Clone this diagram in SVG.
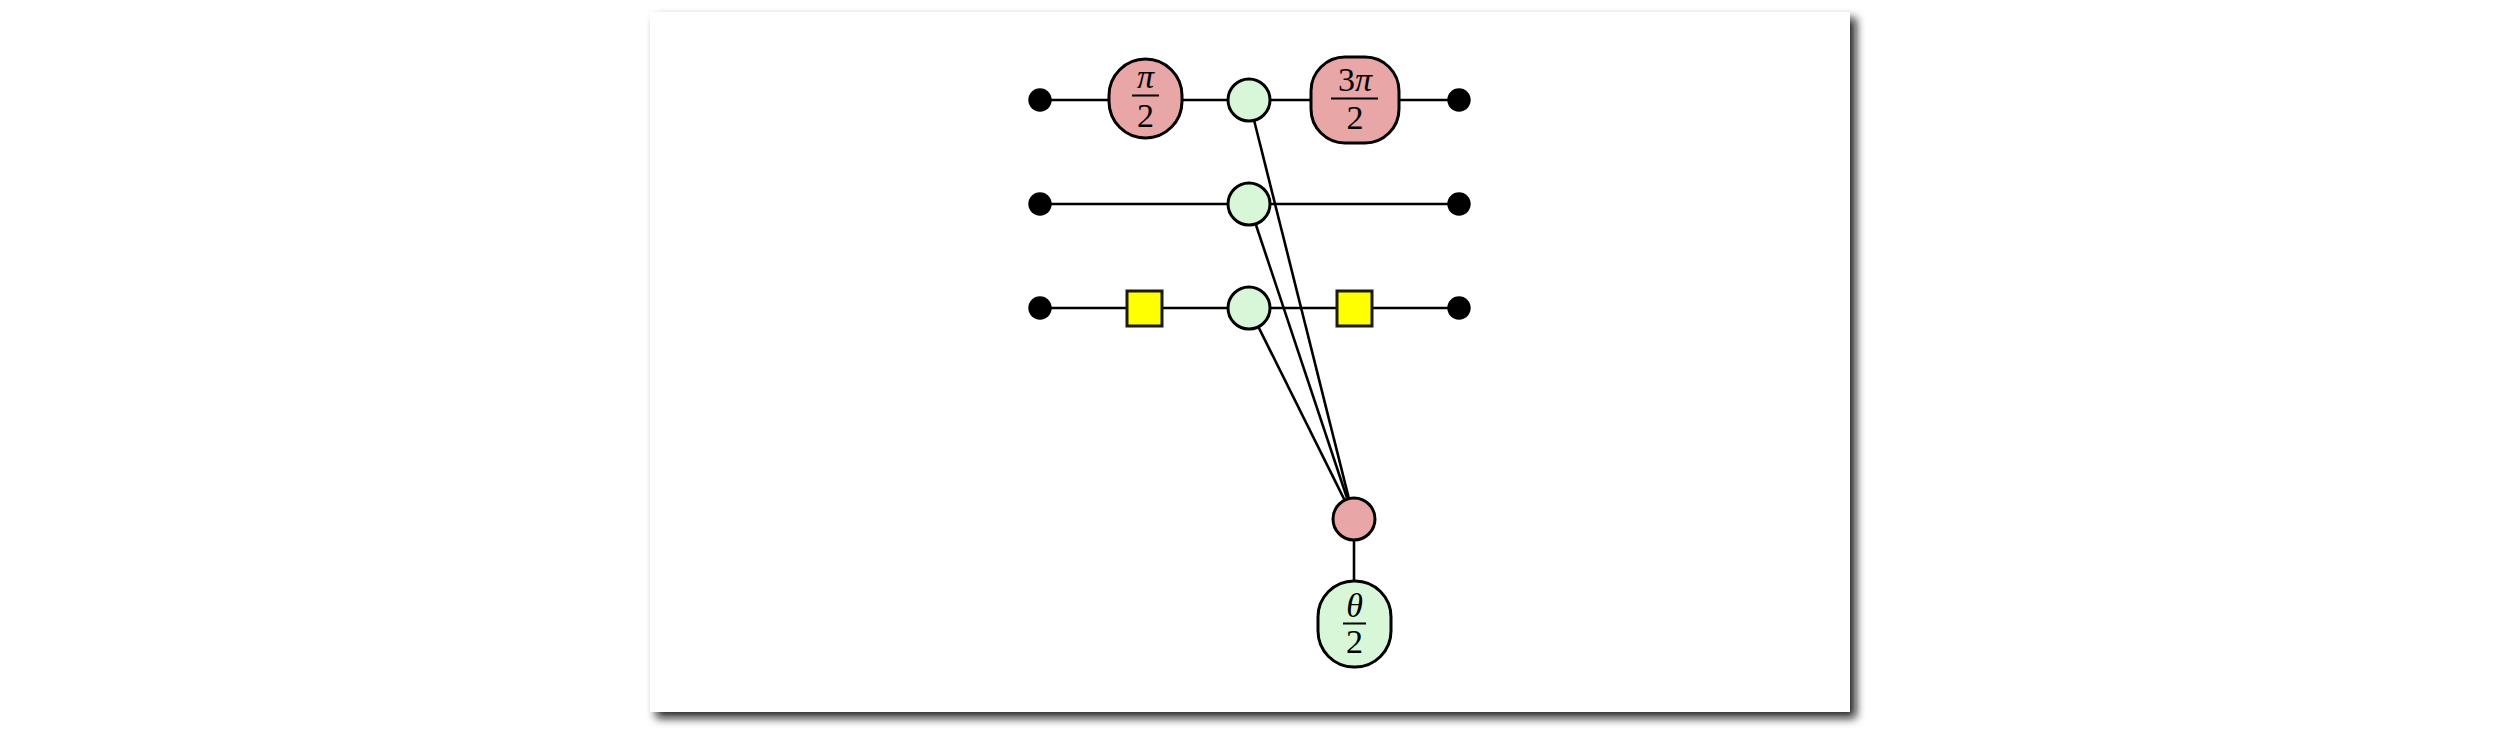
<svg xmlns="http://www.w3.org/2000/svg" width="2500" height="740" viewBox="0 0 2500 740">
<style>
.wire{stroke:#000;stroke-width:2.6;fill:none}
.bdry{fill:#000}
.z{fill:#D8F7D8;stroke:#000;stroke-width:3}
.x{fill:#E8A6A6;stroke:#000;stroke-width:3}
.h{fill:#FFFF00;stroke:#1a1a1a;stroke-width:3}
.t{font-family:"Liberation Serif","DejaVu Serif",serif;font-size:34px;fill:#000;text-anchor:middle}
.it{font-style:italic}
.bar{stroke:#000;stroke-width:2}
</style>
<defs>
<filter id="sh" x="-5%" y="-5%" width="110%" height="115%">
<feDropShadow dx="6" dy="6" stdDeviation="5" flood-color="#111" flood-opacity="0.9"/>
</filter>
</defs>
<rect x="0" y="0" width="2500" height="740" fill="#fff"/>
<rect id="paper" x="650" y="12" width="1200" height="700" fill="#fff" filter="url(#sh)"/>
<g id="connectors">
<line class="wire" x1="1040" y1="100" x2="1459" y2="100"/>
<line class="wire" x1="1040" y1="204" x2="1459" y2="204"/>
<line class="wire" x1="1040" y1="308" x2="1459" y2="308"/>
<line class="wire" x1="1249" y1="100" x2="1354" y2="519"/>
<line class="wire" x1="1249" y1="204" x2="1354" y2="519"/>
<line class="wire" x1="1249" y1="308" x2="1354" y2="519"/>
<line class="wire" x1="1354" y1="519" x2="1354" y2="600"/>
</g>
<g id="in0"><circle class="bdry" cx="1040" cy="100" r="11.7"/></g>
<g id="in1"><circle class="bdry" cx="1040" cy="204" r="11.7"/></g>
<g id="in2"><circle class="bdry" cx="1040" cy="308" r="11.7"/></g>
<g id="out0"><circle class="bdry" cx="1459" cy="100" r="11.7"/></g>
<g id="out1"><circle class="bdry" cx="1459" cy="204" r="11.7"/></g>
<g id="out2"><circle class="bdry" cx="1459" cy="308" r="11.7"/></g>
<g id="xpi2">
<rect class="x" x="1109" y="59" width="73" height="79" rx="36.5" ry="36.5"/>
<text class="t it" x="1145.5" y="88">π</text>
<line class="bar" x1="1132" y1="95.5" x2="1159" y2="95.5"/>
<text class="t" x="1145.5" y="127">2</text>
</g>
<g id="z0"><circle class="z" cx="1249" cy="100" r="21"/></g>
<g id="x3pi2">
<rect class="x" x="1311" y="57" width="88" height="86" rx="34" ry="34"/>
<text class="t" x="1355" y="91">3<tspan class="it">π</tspan></text>
<line class="bar" x1="1331" y1="98.5" x2="1378" y2="98.5"/>
<text class="t" x="1355" y="129">2</text>
</g>
<g id="z1"><circle class="z" cx="1249" cy="204" r="21"/></g>
<g id="h0"><rect class="h" x="1127" y="291" width="35" height="35"/></g>
<g id="z2"><circle class="z" cx="1249" cy="308" r="21"/></g>
<g id="h1"><rect class="h" x="1337" y="291" width="35" height="35"/></g>
<g id="xmid"><circle class="x" cx="1354" cy="519" r="21"/></g>
<g id="ztheta">
<rect class="z" x="1318" y="581" width="73" height="86" rx="36" ry="36"/>
<text class="t it" x="1354.5" y="617">θ</text>
<line class="bar" x1="1343" y1="623.5" x2="1366" y2="623.5"/>
<text class="t" x="1354.5" y="653">2</text>
</g>
</svg>
